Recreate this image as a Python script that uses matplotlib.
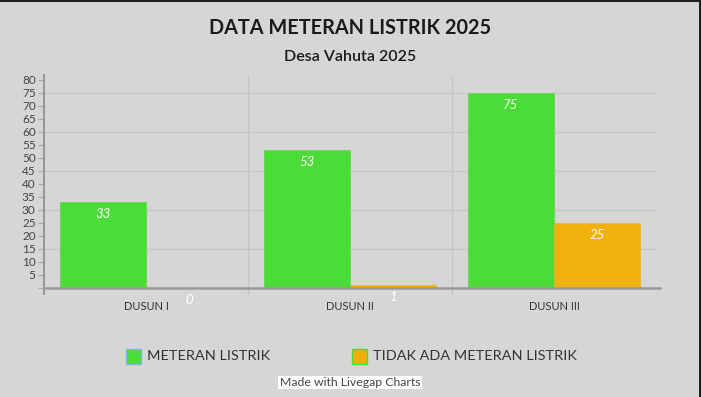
import matplotlib
matplotlib.use("Agg")
import matplotlib.pyplot as plt
from matplotlib.patches import Rectangle
import numpy as np

categories = ["DUSUN I", "DUSUN II", "DUSUN III"]
series_names = ["METERAN LISTRIK", "TIDAK ADA METERAN LISTRIK"]
meteran = [33, 53, 75]
tidak_ada = [0, 1, 25]
colors = ["#4cdc38", "#f0b00e"]
yticks = list(range(5, 85, 5))
title = "DATA METERAN LISTRIK 2025"
subtitle = "Desa Vahuta 2025"

W, H = 701, 397
bg = "#d6d6d4"
plt.rcParams["font.family"] = ["Lato", "DejaVu Sans"]

fig = plt.figure(figsize=(W / 100, H / 100), dpi=100, facecolor=bg)
ax = fig.add_axes([44 / W, 1 - 288 / H, (656 - 44) / W, (288 - 75) / H])
ax.set_facecolor(bg)

x = np.arange(len(categories))
bw = 0.424
series = [meteran, tidak_ada]
offsets = [-bw / 2, bw / 2]
for vals, c, off in zip(series, colors, offsets):
    bars = ax.bar(x + off, vals, width=bw, color=c, edgecolor=c, linewidth=0.4, zorder=3)
    for b, v in zip(bars, vals):
        ax.annotate(str(v), (b.get_x() + b.get_width() / 2, v), xytext=(0, -12),
                    textcoords="offset pixels", ha="center", va="center",
                    color="white", fontsize=9.5, fontstyle="italic", zorder=4,
                    annotation_clip=False)

ax.set_xlim(-0.5, 2.5)
ax.set_ylim(0, 81.8)
ax.set_yticks([0] + yticks)
ax.set_yticklabels([""] + [str(t) for t in yticks], fontsize=8.5, color="#444444")
ax.set_xticks(x)
ax.set_xticklabels(categories, fontsize=8, color="#333333")
ax.tick_params(axis="x", which="major", length=0, pad=9)
ax.set_xticks([0.5, 1.5], minor=True)
ax.tick_params(axis="x", which="minor", length=5, color="#c2c2c2", width=1)
ax.tick_params(axis="y", length=4, color="#aaaaaa", width=0.8, pad=2)

for g in [15, 30, 45, 60, 75]:
    ax.axhline(g, color="#c6c6c6", lw=1, zorder=1)
for v in [0.5, 1.5]:
    ax.axvline(v, color="#c6c6c6", lw=1, zorder=1)

for s in ["top", "right"]:
    ax.spines[s].set_visible(False)
ax.spines["left"].set_color("#8a8a8a")
ax.spines["left"].set_linewidth(1.2)
ax.spines["left"].set_bounds(-2.2, 81.8)
ax.spines["bottom"].set_color("#999999")
ax.spines["bottom"].set_linewidth(1.8)
ax.spines["bottom"].set_bounds(-0.5, 2.52)
ax.spines["bottom"].set_zorder(5)

fig.text(350 / W, 1 - 28 / H, title, ha="center", va="center", fontsize=14.3,
         fontweight="bold", color="#1a1a1a")
fig.text(350 / W, 1 - 57 / H, subtitle, ha="center", va="center", fontsize=11.5,
         fontweight="semibold", color="#1a1a1a")

# legend
leg = [(126, colors[0], "#7fb6e6", series_names[0]), (352, colors[1], "#4cdc38", series_names[1])]
for lx, fc, ec, lab in leg:
    fig.patches.append(Rectangle((lx / W, 1 - 364 / H), 15 / W, 15 / H, transform=fig.transFigure,
                                 facecolor=fc, edgecolor=ec, linewidth=1))
    fig.text((lx + 21) / W, 1 - 356.5 / H, lab, ha="left", va="center", fontsize=10.4,
             color="#333333")

fig.text(350 / W, 1 - 382.5 / H, "Made with Livegap Charts", ha="center", va="center",
         fontsize=8.8, color="#444444",
         bbox=dict(facecolor="white", edgecolor="none", boxstyle="square,pad=0.12"))

# dark frame edges
fig.patches.append(Rectangle((0, 1 - 2 / H), 1, 2 / H, transform=fig.transFigure,
                             facecolor="#1e1e1e", edgecolor="none"))
fig.patches.append(Rectangle((1 - 2 / W, 0), 2 / W, 1, transform=fig.transFigure,
                             facecolor="#1e1e1e", edgecolor="none"))

fig.savefig("out.png", dpi=100, facecolor=bg)
